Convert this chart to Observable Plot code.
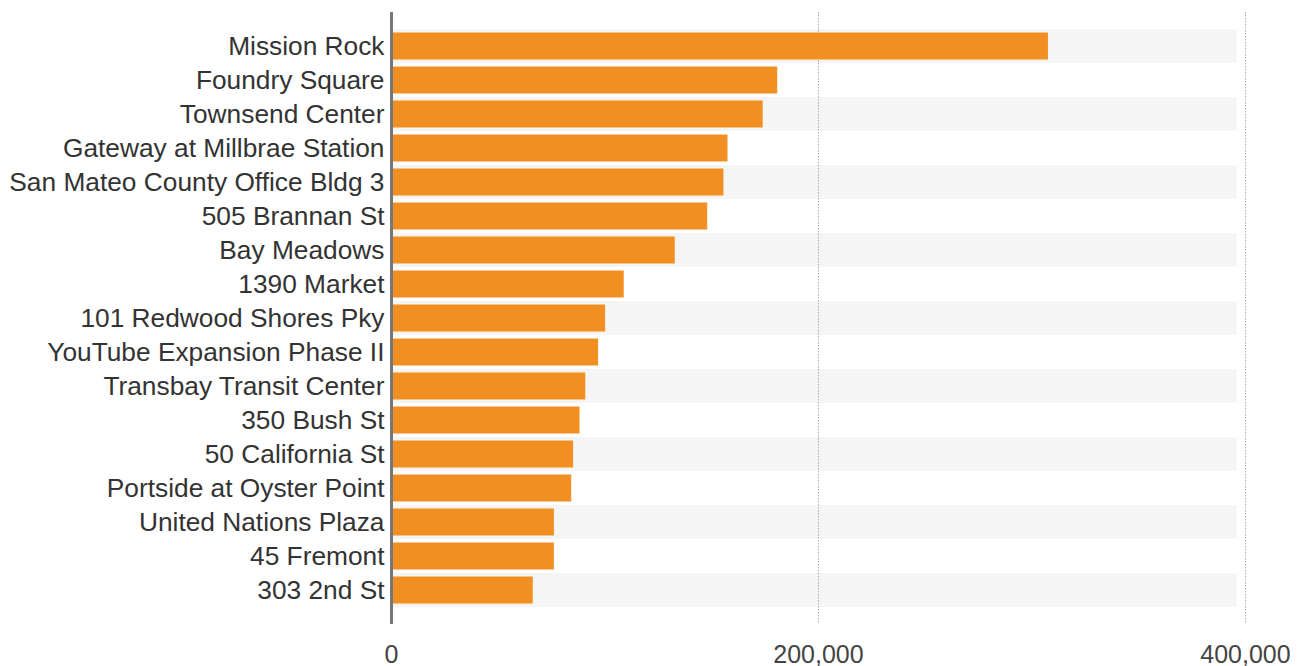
<!DOCTYPE html>
<html>
<head>
<meta charset="utf-8">
<script src="https://cdn.jsdelivr.net/npm/d3@7"></script>
<script src="https://cdn.jsdelivr.net/npm/@observablehq/plot@0.6"></script>
<style>
  html, body { margin: 0; padding: 0; background: #fff; }
  #chart svg { display: block; }
</style>
</head>
<body>
<div id="chart"></div>
<script>
const projects = [
  "Mission Rock", "Foundry Square", "Townsend Center", "Gateway at Millbrae Station",
  "San Mateo County Office Bldg 3", "505 Brannan St", "Bay Meadows", "1390 Market",
  "101 Redwood Shores Pky", "YouTube Expansion Phase II", "Transbay Transit Center",
  "350 Bush St", "50 California St", "Portside at Oyster Point", "United Nations Plaza",
  "45 Fremont", "303 2nd St"
];
const values = [
  307700, 180900, 174100, 157600, 155700, 148100, 132900, 109000,
  100300, 97000, 91000, 88300, 85300, 84400, 76300, 76300, 66400
];
const xTicks = [0, 200000, 400000];
const bandMax = 396000;

const data = projects.map((name, i) => ({name, value: values[i], i}));
const bands = data.filter(d => d.i % 2 === 0);

const chart = Plot.plot({
  width: 1299,
  height: 666,
  marginLeft: 391,
  marginRight: 54,
  marginTop: 12,
  marginBottom: 42,
  style: {fontFamily: "Arial, 'Liberation Sans', sans-serif", color: "#333", background: "#fff"},
  x: {domain: [0, 400000], ticks: xTicks, tickFormat: d3.format(","), label: null},
  y: {domain: projects, paddingInner: 0, paddingOuter: 0.5, label: null},
  marks: [
    Plot.barX(bands, {x1: 0, x2: bandMax, y: "name", fill: "#f5f5f5"}),
    Plot.ruleX(xTicks.slice(1), {stroke: "#aaa", strokeWidth: 1, strokeDasharray: "1.5,1.5"}),
    Plot.barX(data, {x: "value", y: "name", fill: "#f28f22", insetTop: 3.5, insetBottom: 3.5}),
    Plot.ruleX([0], {stroke: "#777", strokeWidth: 3}),
    Plot.axisY({tickSize: 0, tickPadding: 7, fontSize: 26.3, fill: "#333", label: null}),
    Plot.axisX({ticks: xTicks, tickSize: 0, tickPadding: 21, fontSize: 25, fill: "#444", tickFormat: d3.format(","), label: null})
  ]
});
document.getElementById("chart").appendChild(chart);
</script>
</body>
</html>
